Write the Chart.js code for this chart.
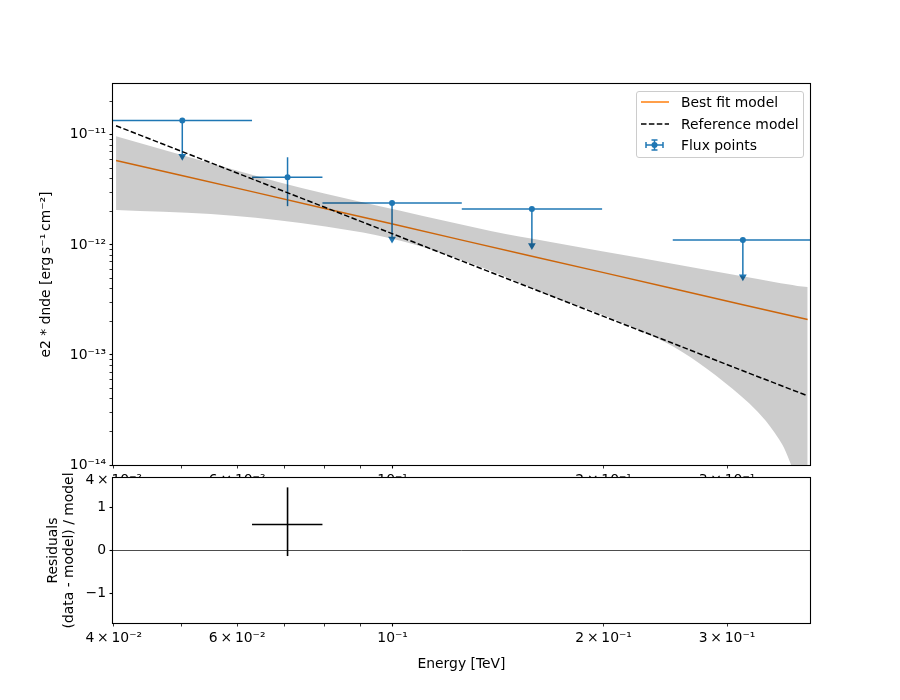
<!DOCTYPE html>
<html>
<head>
<meta charset="utf-8">
<title>Flux points fit</title>
<script src="https://cdn.jsdelivr.net/npm/chart.js@4.4.1/dist/chart.umd.min.js"></script>
<style>
  html, body { margin: 0; padding: 0; background: #fff; }
  #wrap { position: relative; width: 900px; height: 700px; }
  #wrap canvas { position: absolute; left: 0; top: 0; }
  #spectrum { z-index: 1; }
  #residuals { z-index: 2; }
  #legend {
    position: absolute; z-index: 3; left: 636px; top: 91px; width: 166px; height: 65px;
    border: 1px solid #cccccc; border-radius: 3px; background: rgba(255,255,255,0.8);
    font-family: "DejaVu Sans", sans-serif; font-size: 13.9px; color: #000;
  }
  #legend .row { position: absolute; left: 0; height: 20px; display: flex; align-items: center; white-space: nowrap; }
  #legend svg { margin-left: 3px; margin-right: 11px; }
</style>
</head>
<body>
<div id="wrap">
  <canvas id="spectrum" width="900" height="700"></canvas>
  <canvas id="residuals" width="900" height="700"></canvas>
  <div id="legend">
    <div class="row" style="top:0px">
      <svg width="30" height="20"><line x1="1" y1="10" x2="29" y2="10" stroke="#ff7f0e" stroke-width="1.5"/></svg>
      <span>Best fit model</span>
    </div>
    <div class="row" style="top:21.5px">
      <svg width="30" height="20"><line x1="1" y1="10" x2="29" y2="10" stroke="#000" stroke-width="1.5" stroke-dasharray="5.5 2.4"/></svg>
      <span>Reference model</span>
    </div>
    <div class="row" style="top:43px">
      <svg width="30" height="20">
        <g stroke="#1f77b4" stroke-width="1.5">
          <line x1="6" y1="10" x2="23" y2="10"/>
          <line x1="6" y1="7" x2="6" y2="13"/>
          <line x1="23" y1="7" x2="23" y2="13"/>
          <line x1="14.5" y1="5" x2="14.5" y2="15"/>
          <line x1="11.5" y1="5" x2="17.5" y2="5"/>
          <line x1="11.5" y1="15" x2="17.5" y2="15"/>
        </g>
        <circle cx="14.5" cy="10" r="3" fill="#1f77b4"/>
      </svg>
      <span>Flux points</span>
    </div>
  </div>
</div>
<script>
// axis ranges
const energyRange = [0.0399, 0.394];
const fluxRange = [1e-14, 2.9e-11];
const residualRange = [-1.7, 1.7];

// ticks
const energyTicks = [0.04, 0.06, 0.1, 0.2, 0.3];
const energyTickLabels = ["4\u2009×\u200910⁻²", "6\u2009×\u200910⁻²", "10⁻¹", "2\u2009×\u200910⁻¹", "3\u2009×\u200910⁻¹"];
const energyMinorTicks = [0.05, 0.07, 0.08, 0.09];
const fluxTicks = [1e-14, 1e-13, 1e-12, 1e-11];
const fluxTickLabels = ["10⁻¹⁴", "10⁻¹³", "10⁻¹²", "10⁻¹¹"];
const residualTicks = [-1, 0, 1];
const residualTickLabels = ["−1", "0", "1"];

// models (TeV, erg s-1 cm-2)
const modelEnergy = [0.0403, 0.05, 0.063, 0.08, 0.1, 0.126, 0.158, 0.2, 0.25, 0.316, 0.391];
const bestFitFlux = [5.86e-12, 4.28e-12, 3.05e-12, 2.14e-12, 1.55e-12, 1.10e-12, 7.90e-13, 5.60e-13, 4.03e-13, 2.86e-13, 2.10e-13];
const referenceFlux = [1.21e-11, 7.07e-12, 3.98e-12, 2.20e-12, 1.26e-12, 7.08e-13, 4.03e-13, 2.24e-13, 1.29e-13, 7.18e-14, 4.25e-14];

// error band of the best fit
const bandEnergy = [0.0403, 0.055, 0.0739, 0.1026, 0.138, 0.168, 0.198, 0.226, 0.252, 0.281, 0.314, 0.332, 0.350, 0.366, 0.378, 0.391];
const bandUpper = [9.7e-12, 5.51e-12, 3.30e-12, 2.04e-12, 1.34e-12, 1.065e-12, 8.82e-13, 7.62e-13, 6.72e-13, 5.93e-13, 5.23e-13, 4.91e-13, 4.61e-13, 4.38e-13, 4.24e-13, 4.15e-13];
const bandLower = [2.08e-12, 1.91e-12, 1.58e-12, 1.09e-12, 5.81e-13, 3.44e-13, 2.36e-13, 1.65e-13, 1.18e-13, 7.46e-14, 4.24e-14, 3.03e-14, 2.0e-14, 1.21e-14, 6e-15, 1e-15];

// flux points
const fpEnergy = [0.0501, 0.0708, 0.0998, 0.158, 0.316];
const fpEnergyLo = [0.0398, 0.0630, 0.0794, 0.1255, 0.251];
const fpEnergyHi = [0.0630, 0.0794, 0.1255, 0.199, 0.398];
const fpFlux = [1.35e-11, 4.12e-12, 2.41e-12, 2.12e-12, 1.11e-12];
const fpFluxLo = [6.4e-12, 2.25e-12, 1.13e-12, 9.9e-13, 5.15e-13];
const fpFluxHi = [null, 6.26e-12, null, null, null];
const fpIsUpperLimit = [true, false, true, true, true];

// residuals
const resEnergy = [0.0708];
const resEnergyLo = [0.0630];
const resEnergyHi = [0.0794];
const resValue = [0.61];
const resLo = [-0.13];
const resHi = [1.48];

const blue = "#1f77b4";
const orange = "#ff7f0e";
const tickFont = { family: "DejaVu Sans", size: 13.9, lineHeight: 1.2 };

Chart.defaults.font.family = "DejaVu Sans";
Chart.defaults.color = "#000";

function pairs(xs, ys) {
  return xs.map((x, i) => ({ x, y: ys[i] }));
}

function segment(points, color, width, extra) {
  return Object.assign({
    data: points, borderColor: color, backgroundColor: color, borderWidth: width,
    pointRadius: 0, showLine: true, fill: false
  }, extra || {});
}

function setTicks(values) {
  return scale => {
    scale.ticks = values.slice().sort((a, b) => a - b).map(v => ({ value: v }));
  };
}

function labelFor(values, labels) {
  return value => {
    const i = values.findIndex(v => Math.abs(v - value) <= Math.abs(v || 1) * 1e-6);
    return i >= 0 ? labels[i] : "";
  };
}

const fluxMinorTicks = [];
fluxTicks.forEach(d => [2, 3, 4, 5, 6, 7, 8, 9].forEach(m => {
  if (m * d < fluxRange[1]) fluxMinorTicks.push(m * d);
}));

const gridStyle = {
  drawOnChartArea: false, drawTicks: true, tickLength: 3.5, tickColor: "#000",
  tickWidth: ctx => (ctx.tick && (fluxTicks.includes(ctx.tick.value) || ctx.tick.value === 0.1 || residualTicks.includes(ctx.tick.value)) ? 1.1 : 0.8)
};

function energyAxis(height, withTitle) {
  return {
    type: "logarithmic", position: "bottom", min: energyRange[0], max: energyRange[1],
    afterBuildTicks: setTicks(energyTicks.concat(energyMinorTicks)),
    afterFit: s => { s.height = height; },
    ticks: { autoSkip: false, maxRotation: 0, minRotation: 0, padding: 3.5, color: "#000", font: tickFont,
             callback: labelFor(energyTicks, energyTickLabels) },
    grid: gridStyle,
    border: { display: false },
    title: withTitle
      ? { display: true, text: "Energy [TeV]", color: "#000", font: tickFont, padding: { top: 0, bottom: 27.7 } }
      : { display: false }
  };
}

// white axes background and black box round the plot area
const framePlugin = {
  id: "frame",
  beforeDatasetsDraw(chart, args, opts) {
    const a = chart.chartArea, ctx = chart.ctx;
    if (opts.fill) {
      ctx.save();
      ctx.fillStyle = "#fff";
      ctx.fillRect(a.left, a.top, a.right - a.left, a.bottom - a.top);
      ctx.restore();
    }
  },
  afterDatasetsDraw(chart) {
    const a = chart.chartArea, ctx = chart.ctx;
    ctx.save();
    ctx.strokeStyle = "#000";
    ctx.lineWidth = 1.1;
    ctx.strokeRect(a.left - 0.5, a.top - 0.5, a.right - a.left + 1, a.bottom - a.top + 1);
    ctx.restore();
  }
};

// ---- spectrum panel ----
const spectrumSets = [
  { data: pairs(bandEnergy, bandUpper), borderColor: "transparent", borderWidth: 0, pointRadius: 0,
    cubicInterpolationMode: "monotone", fill: "+1", backgroundColor: "rgba(0,0,0,0.2)" },
  { data: pairs(bandEnergy, bandLower), borderColor: "transparent", borderWidth: 0, pointRadius: 0,
    cubicInterpolationMode: "monotone", fill: false },
  segment(pairs(modelEnergy, referenceFlux), "#000", 1.5, { borderDash: [5.5, 2.4] })
];
fpEnergy.forEach((e, i) => {
  spectrumSets.push(segment([{ x: fpEnergyLo[i], y: fpFlux[i] }, { x: fpEnergyHi[i], y: fpFlux[i] }], blue, 1.5));
  if (fpIsUpperLimit[i]) {
    spectrumSets.push(segment([{ x: e, y: fpFlux[i] }, { x: e, y: fpFluxLo[i] }], blue, 1.5,
      { pointRadius: [0, 4.5], pointStyle: "triangle", pointRotation: 180, pointBorderWidth: 0, pointBackgroundColor: blue }));
  } else {
    spectrumSets.push(segment([{ x: e, y: fpFluxLo[i] }, { x: e, y: fpFluxHi[i] }], blue, 1.5));
  }
});
spectrumSets.push({ data: pairs(fpEnergy, fpFlux), showLine: false, pointRadius: 3,
                    pointBackgroundColor: blue, pointBorderWidth: 0 });
spectrumSets.push(segment(pairs(modelEnergy, bestFitFlux), orange, 1.5));

new Chart(document.getElementById("spectrum"), {
  type: "line",
  data: { datasets: spectrumSets },
  options: {
    responsive: false, animation: false, events: [],
    layout: { padding: { top: 84, right: 90, left: 0, bottom: 0 } },
    plugins: { legend: { display: false }, tooltip: { enabled: false }, frame: { fill: false } },
    scales: {
      x: energyAxis(235, false),
      y: {
        type: "logarithmic", position: "left", min: fluxRange[0], max: fluxRange[1],
        afterBuildTicks: setTicks(fluxTicks.concat(fluxMinorTicks)),
        afterFit: s => { s.width = 113; },
        ticks: { autoSkip: false, padding: 3.5, color: "#000", font: tickFont,
                 callback: labelFor(fluxTicks, fluxTickLabels) },
        grid: gridStyle,
        border: { display: false },
        title: { display: true, text: "e2 * dnde [erg\u2009s⁻¹\u2009cm⁻²]", color: "#000", font: tickFont,
                 padding: { top: 37.6, bottom: 0 } }
      }
    }
  },
  plugins: [framePlugin]
});

// ---- residual panel ----
const residualSets = [];
resEnergy.forEach((e, i) => {
  residualSets.push(segment([{ x: resEnergyLo[i], y: resValue[i] }, { x: resEnergyHi[i], y: resValue[i] }], "#000", 1.6));
  residualSets.push(segment([{ x: e, y: resLo[i] }, { x: e, y: resHi[i] }], "#000", 1.6));
});
residualSets.push(segment([{ x: energyRange[0], y: 0 }, { x: energyRange[1], y: 0 }], "#000", 0.7));

new Chart(document.getElementById("residuals"), {
  type: "line",
  data: { datasets: residualSets },
  options: {
    responsive: false, animation: false, events: [],
    layout: { padding: { top: 478, right: 90, left: 0, bottom: 0 } },
    plugins: { legend: { display: false }, tooltip: { enabled: false }, frame: { fill: true } },
    scales: {
      x: energyAxis(77, true),
      y: {
        type: "linear", position: "left", min: residualRange[0], max: residualRange[1],
        afterBuildTicks: setTicks(residualTicks),
        afterFit: s => { s.width = 113; },
        ticks: { autoSkip: false, padding: 3.5, color: "#000", font: tickFont,
                 callback: labelFor(residualTicks, residualTickLabels) },
        grid: gridStyle,
        border: { display: false },
        title: { display: true, text: ["Residuals", "(data - model) / model"], color: "#000",
                 font: { family: "DejaVu Sans", size: 13.9, lineHeight: 1.1 }, padding: { top: 46, bottom: 0 } }
      }
    }
  },
  plugins: [framePlugin]
});
</script>
</body>
</html>
